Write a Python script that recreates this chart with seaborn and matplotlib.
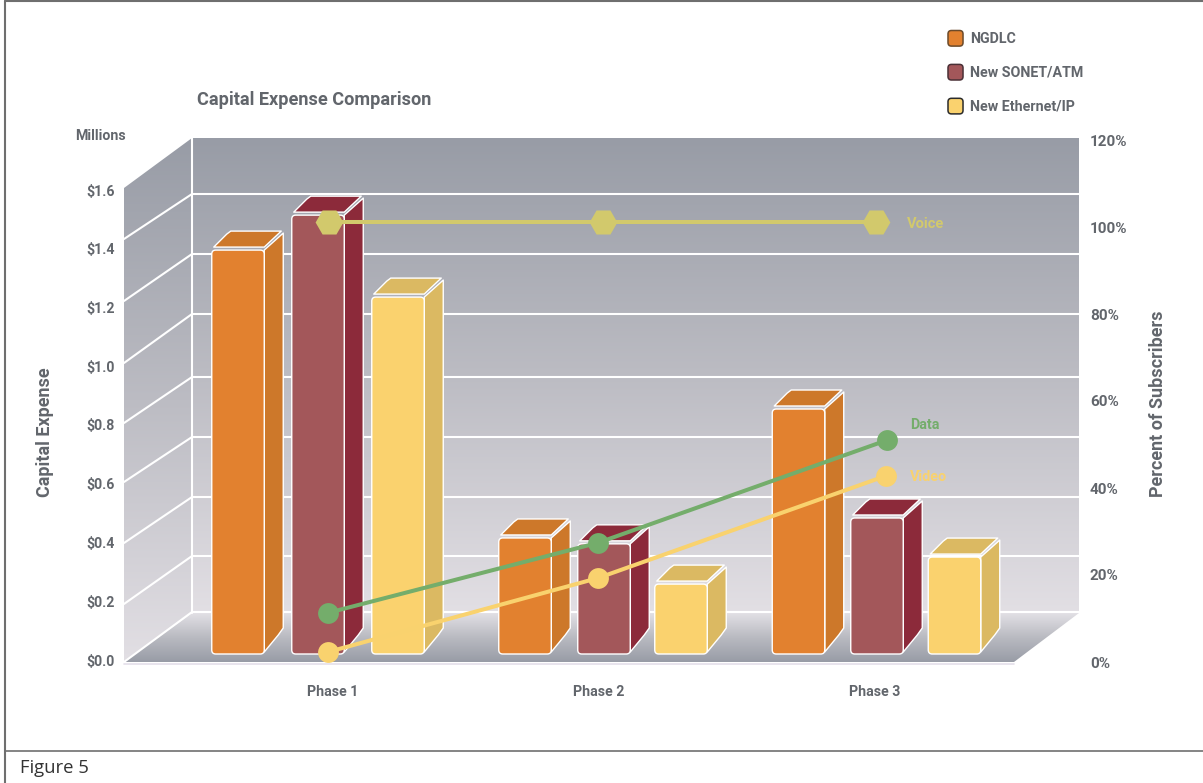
import numpy as np
import pandas as pd
import matplotlib
matplotlib.use("Agg")
import matplotlib.pyplot as plt
import seaborn as sns
from matplotlib.patches import Polygon, FancyBboxPatch, Patch
from matplotlib.legend_handler import HandlerPatch
from matplotlib.colors import LinearSegmentedColormap, to_hex

# ---------- data ----------
phases = ["Phase 1", "Phase 2", "Phase 3"]
series_names = ["NGDLC", "New SONET/ATM", "New Ethernet/IP"]
ngdlc = [1.375, 0.395, 0.834]
sonet = [1.494, 0.375, 0.463]
ethernet = [1.215, 0.238, 0.330]
voice = [101.1, 101.1, 101.1]
data_pct = [11.3, 27.4, 51.0]
video_pct = [2.3, 19.3, 42.8]
left_ticks = [0.0, 0.2, 0.4, 0.6, 0.8, 1.0, 1.2, 1.4, 1.6]
right_ticks = [0, 20, 40, 60, 80, 100, 120]

# ---------- layout (pixels) ----------
W, H = 1203, 783
AX_L, AX_R, AX_T, AX_B = 119, 1087, 130, 680
PX_PER_UNIT = 293.75
PX_PER_PCT = 4.35
Y0_LEFT, Y0_BARS, Y0_RIGHT = 660, 654, 662
bar_x = {"NGDLC": [238, 525, 798.5],
         "New SONET/ATM": [318, 604, 877],
         "New Ethernet/IP": [398, 681, 954.5]}
line_x = {"Voice": [329, 603, 876], "Data": [328, 598, 887], "Video": [328, 598, 886]}
phase_label_x = [332.5, 598.5, 875]
BAR_W = 52.5
DEPTH_X, DEPTH_TOP, DEPTH_BOT = 19, 17, 22
BACK_GRID = [612, 556, 497, 437, 377, 314, 254, 194]
FRONT_GRID = [662, 604, 543, 482, 423, 363, 301, 239]

C_TEXT = "#62666c"
FACE = {"NGDLC": "#e2812f", "New SONET/ATM": "#a3575a", "New Ethernet/IP": "#fad26e"}
SIDE = {"NGDLC": "#cd782a", "New SONET/ATM": "#8c2a3a", "New Ethernet/IP": "#dbb962"}
C_VOICE, C_DATA, C_VIDEO = "#d2c96c", "#74ad6b", "#f9d26e"
NARROW = ["Roboto", "DejaVu Sans"]

sns.set_theme(style="white")
plt.rcParams["font.family"] = NARROW
plt.rcParams["font.weight"] = "bold"
plt.rcParams["text.color"] = C_TEXT

fig = plt.figure(figsize=(W / 100, H / 100), dpi=100, facecolor="white")

# ---------- background: walls, floor, frame (pixel coordinates) ----------
bg = fig.add_axes([0, 0, 1, 1], zorder=0)
bg.set_xlim(0, W)
bg.set_ylim(H, 0)
bg.axis("off")


def gradient(poly_pts, colors, y0, y1):
    cmap = LinearSegmentedColormap.from_list("g", colors)
    xs = [p[0] for p in poly_pts]
    im = bg.imshow(np.linspace(0, 1, 256)[:, None], cmap=cmap, aspect="auto",
                   extent=(min(xs), max(xs), y1, y0), zorder=1)
    clip = Polygon(poly_pts, closed=True, transform=bg.transData, fc="none", ec="none")
    bg.add_patch(clip)
    im.set_clip_path(clip)


WALL = ["#989ca6", "#bcbcc3", "#e2dfe4"]
gradient([(192, 138), (1079, 138), (1079, 613), (192, 613)], WALL, 138, 613)
gradient([(124, 188), (192, 138), (192, 613), (124, 662)], WALL, 138, 662)
gradient([(124, 662), (192, 613), (1079, 613), (1014, 662)],
         ["#e2e0e5", "#b9bac1", "#989ca6"], 613, 662)
bg.set_xlim(0, W)
bg.set_ylim(H, 0)

for by, fy in zip(BACK_GRID, FRONT_GRID):
    bg.plot([192, 1079], [by, by], color="white", lw=1.5, zorder=2, solid_capstyle="butt")
    bg.plot([124, 192], [fy, by], color="white", lw=1.5, zorder=2)
bg.plot([192, 192], [138, 613], color="white", lw=1.5, zorder=2)
bg.plot([124, 1014], [663.5, 663.5], color="#e4dfea", lw=1.2, zorder=2)

for xs, ys, lw in [([5, W], [1, 1], 1.5), ([5, W], [751, 751], 1.2), ([5, 5], [1, H], 1.5)]:
    bg.plot(xs, ys, color="#6f6f6f", lw=lw, zorder=3)

bg.text(197, 100, "Capital Expense Comparison", fontsize=13.1, va="center", ha="left")
bg.text(75, 136, "Millions", fontsize=10.2, va="center", ha="left")
bg.text(19.5, 768, "Figure 5", fontsize=13.3, va="center", ha="left", color="#333333",
        family=["Open Sans", "DejaVu Sans"], fontweight="normal")
bg.text(45, 432, "Capital Expense", fontsize=13, rotation=90, va="center", ha="center")
bg.text(1158, 404, "Percent of Subscribers", fontsize=13, rotation=90, va="center", ha="center")
bg.text(907, 224, "Voice", fontsize=10.5, color=C_VOICE, va="center", zorder=5)
bg.text(910, 425, "Data", fontsize=10.4, color=C_DATA, va="center", zorder=5)
bg.text(910, 477, "Video", fontsize=10.4, color=C_VIDEO, va="center", zorder=5)

rect = [AX_L / W, 1 - AX_B / H, (AX_R - AX_L) / W, (AX_B - AX_T) / H]

# ---------- left axis (tick labels) ----------
ax = fig.add_axes(rect, zorder=1, facecolor="none")
ax.set_ylim((Y0_LEFT - AX_B) / PX_PER_UNIT, (Y0_LEFT - AX_T) / PX_PER_UNIT)
ax.set_xlim(AX_L, AX_R)
ax.set_yticks(left_ticks)
ax.set_yticklabels([f"${v:.1f}" for v in left_ticks])
ax.set_xticks(phase_label_x)
ax.set_xticklabels(phases)
ax.tick_params(axis="both", length=0, labelsize=10.2, labelcolor=C_TEXT)
ax.tick_params(axis="y", pad=3)
ax.tick_params(axis="x", pad=3.5)
sns.despine(ax=ax, left=True, bottom=True)

# ---------- bars ----------
ax_bars = fig.add_axes(rect, zorder=2, facecolor="none")
df = pd.DataFrame({
    "pos": bar_x["NGDLC"] + bar_x["New SONET/ATM"] + bar_x["New Ethernet/IP"],
    "value": ngdlc + sonet + ethernet,
    "series": np.repeat(series_names, 3),
})
min_gap = np.diff(np.unique(df["pos"])).min()
sns.barplot(data=df, x="pos", y="value", hue="series", hue_order=series_names,
            palette=FACE, native_scale=True, dodge=False, width=BAR_W / min_gap,
            saturation=1, legend=False, ax=ax_bars, linewidth=0, zorder=4)
ax_bars.set_xlim(AX_L, AX_R)
ax_bars.set_ylim((Y0_BARS - AX_B) / PX_PER_UNIT, (Y0_BARS - AX_T) / PX_PER_UNIT)
ax_bars.axis("off")

Y_PX = 1 / PX_PER_UNIT
face_to_name = {to_hex(c): n for n, c in FACE.items()}
for r in list(ax_bars.patches):
    x0, w, h = r.get_x(), r.get_width(), r.get_height()
    if h <= 0:
        continue
    name = face_to_name[to_hex(r.get_facecolor())]
    x1 = x0 + w
    side = Polygon([(x1, h), (x1 + DEPTH_X, h + DEPTH_TOP * Y_PX),
                    (x1 + DEPTH_X, 26 * Y_PX), (x1 + DEPTH_X - 5, 19 * Y_PX), (x1, 2 * Y_PX)],
                   closed=True, fc=SIDE[name], ec="white", lw=1, joinstyle="round", zorder=2)
    top = Polygon([(x0 + 2, h + 3 * Y_PX), (x0 + 15, h + 16 * Y_PX), (x0 + 19, h + 19 * Y_PX),
                   (x1 + DEPTH_X - 2, h + 19 * Y_PX), (x1, h + 3 * Y_PX)],
                  closed=True, fc=SIDE[name], ec="white", lw=1, joinstyle="round", zorder=2)
    ax_bars.add_patch(side)
    ax_bars.add_patch(top)
    outline = FancyBboxPatch((x0, 0), w, h, boxstyle="round,pad=0,rounding_size=4",
                             mutation_aspect=Y_PX, fc="none", ec="white", lw=1.0, zorder=5)
    ax_bars.add_patch(outline)
    r.set_clip_path(outline)

# ---------- percent axis and lines ----------
ax2 = fig.add_axes(rect, zorder=3, facecolor="none")
ax2.yaxis.tick_right()
for vals, name, col, mk, ms in [(voice, "Voice", C_VOICE, "H", 20),
                                (video_pct, "Video", C_VIDEO, "o", 15),
                                (data_pct, "Data", C_DATA, "o", 15)]:
    sns.lineplot(x=line_x[name], y=vals, color=col, marker=mk, markersize=ms,
                 markeredgewidth=0, linewidth=2.9, sort=False, errorbar=None,
                 legend=False, ax=ax2)
ax2.set_xlim(AX_L, AX_R)
ax2.set_ylim((Y0_RIGHT - AX_B) / PX_PER_PCT, (Y0_RIGHT - AX_T) / PX_PER_PCT)
ax2.set_yticks(right_ticks)
ax2.set_yticklabels([f"{v}%" for v in right_ticks])
ax2.set_xticks([])
ax2.tick_params(axis="y", length=0, pad=2, labelsize=11, labelcolor=C_TEXT,
                right=False, labelright=True, labelleft=False)
ax2.set_xlabel("")
ax2.set_ylabel("")
for s in ax2.spines.values():
    s.set_visible(False)
for s in ax.spines.values():
    s.set_visible(False)


# ---------- legend ----------
class RoundHandler(HandlerPatch):
    def create_artists(self, legend, orig_handle, xdescent, ydescent, width, height, fontsize, trans):
        p = FancyBboxPatch((-xdescent, -ydescent), width, height,
                           boxstyle="round,pad=0,rounding_size=2.5",
                           fc=orig_handle.get_facecolor(), ec=orig_handle.get_edgecolor(),
                           lw=1.1, transform=trans)
        return [p]


handles = [Patch(fc=FACE[n], ec=SIDE[n] if n != "New Ethernet/IP" else "#2b2b2b") for n in series_names]
handles[0].set_edgecolor("#6b4a2a")
handles[1].set_edgecolor("#4a3036")
leg = fig.legend(handles, series_names, handler_map={Patch: RoundHandler()},
                 loc="upper left", bbox_to_anchor=(948 / W, 1 - 30.5 / H), frameon=False,
                 fontsize=10.3, handlelength=1.05, handleheight=1.3, handletextpad=0.48,
                 labelspacing=1.28, borderaxespad=0, borderpad=0, labelcolor=C_TEXT)

fig.savefig("out.png", dpi=100)
